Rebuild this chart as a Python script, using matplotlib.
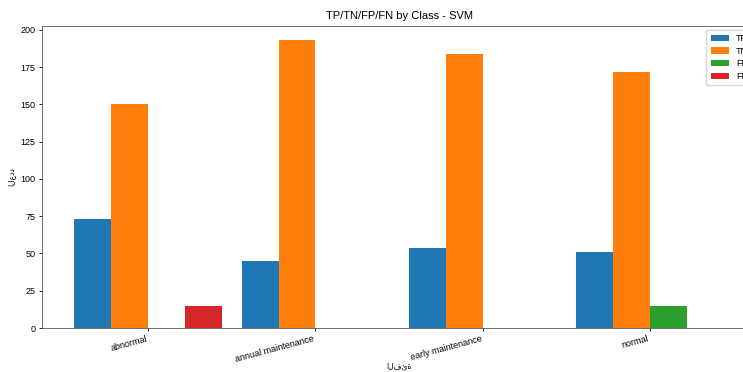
import matplotlib
matplotlib.use("Agg")
import matplotlib.pyplot as plt
import numpy as np

plt.rcParams["font.family"] = ["Liberation Sans", "DejaVu Sans"]

classes = ["abnormal", "annual maintenance", "early maintenance", "normal"]
tp = [73, 45, 54, 51]
tn = [150, 193, 184, 172]
fp = [0, 0, 0, 15]
fn = [15, 0, 0, 0]
series_names = ["TP", "TN", "FP", "FN"]
colors = ["#1f77b4", "#ff7f0e", "#2ca02c", "#d62728"]

fig = plt.figure(figsize=(7.43, 3.72), dpi=100)
ax = fig.add_axes([42/743, 44/372, 714/743, 302/372])

x = np.arange(len(classes))
w = 0.22
for i, (vals, name, c) in enumerate(zip([tp, tn, fp, fn], series_names, colors)):
    ax.bar(x + (i - 1.5) * w, vals, w, label=name, color=c)

ax.set_xticks(x)
ax.set_xticklabels(classes, rotation=15, ha="right", fontsize=6.5)
ax.tick_params(axis="both", length=2.5, width=0.6, pad=2)
ax.tick_params(axis="y", labelsize=6.5)
for s in ax.spines.values():
    s.set_linewidth(0.6)
    s.set_color("#555555")
ax.set_yticks([0, 25, 50, 75, 100, 125, 150, 175, 200])
ax.set_title("TP/TN/FP/FN by Class - SVM", fontsize=8, pad=5)
ax.set_xlabel("الفئة", fontsize=5.5, family=["DejaVu Sans"])
ax.xaxis.set_label_coords(0.5, -0.112)
ax.set_ylabel("العدد", fontsize=5.5, labelpad=4, family=["DejaVu Sans"])
ax.legend(loc="upper right", fontsize=6.5, borderaxespad=0.4, labelspacing=0.4,
          handlelength=2.0, borderpad=0.5)

fig.savefig("out.png", dpi=100)
